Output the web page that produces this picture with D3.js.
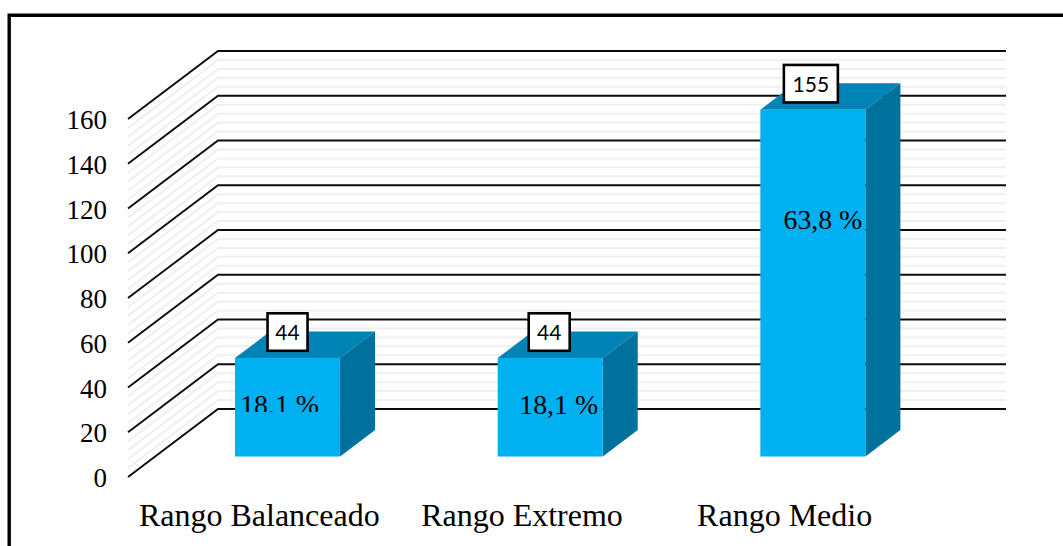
<!DOCTYPE html>
<html><head><meta charset="utf-8">
<script src="https://cdn.jsdelivr.net/npm/d3@7"></script>
<style>
html,body{margin:0;padding:0;background:#fff;overflow:hidden}
svg{display:block}
text{font-family:"Liberation Serif",serif;fill:#000}
</style></head><body>
<div id="chart"></div>
<script>
const categories = ["Rango Balanceado", "Rango Extremo", "Rango Medio"];
const counts = [44, 44, 155];
const percentLabels = ["18,1 %", "18,1 %", "63,8 %"];
const majorTicks = [0, 20, 40, 60, 80, 100, 120, 140, 160];
const minorTicks = d3.range(0, 160, 4).filter(v => v % 20 !== 0);

const W = 1063, H = 546;
const svg = d3.select("#chart").append("svg").attr("width", W).attr("height", H);

// layout
const front = {x0: 128, x1: 916};
const wall = {dx: 90, dy: -68};
const barDepth = {dx: 35, dy: -26.5};
const y = d3.scaleLinear().domain([0, 160]).range([477, 119]);
const barBase = 456.5;
const barH = v => y(0) - y(v);
const xBand = d3.scaleBand().domain(categories).range([front.x0, front.x1]);
const xBar = d3.scaleBand().domain(categories).range([front.x0 + 28.2, front.x1 + 28.2])
  .paddingInner(0.6).paddingOuter(0.3);

// frame
svg.append("path").attr("d", `M9.2,${H + 5}V15.2H${W + 5}`)
  .attr("fill", "none").attr("stroke", "#000").attr("stroke-width", 3.4);

const gridPath = v => `M${front.x0},${y(v)}L${front.x0 + wall.dx},${y(v) + wall.dy}H${front.x1 + wall.dx}`;

svg.append("g").selectAll("path").data(minorTicks).join("path")
  .attr("d", gridPath).attr("fill", "none").attr("stroke", "#efefef").attr("stroke-width", 2);
svg.append("g").selectAll("path").data(majorTicks).join("path")
  .attr("d", gridPath).attr("fill", "none").attr("stroke", "#0c0c0c").attr("stroke-width", 1.9);

// y labels
svg.append("g").selectAll("text").data(majorTicks).join("text")
  .attr("x", 107).attr("y", d => y(d) + 10).attr("text-anchor", "end")
  .attr("font-size", 27).text(d => d);

// bars
const bars = svg.append("g").selectAll("g").data(categories.map((c, i) => ({c, i, v: counts[i]}))).join("g");
const colTop = "#0084b6", colSide = "#00709c", colFront = "#00b0f0";
bars.append("path").attr("fill", colTop).attr("d", d => {
  const x = xBar(d.c), w = xBar.bandwidth(), t = barBase - barH(d.v);
  return `M${x},${t}L${x + barDepth.dx},${t + barDepth.dy}H${x + w + barDepth.dx}L${x + w},${t}Z`;
});
bars.append("path").attr("fill", colSide).attr("d", d => {
  const x = xBar(d.c) + xBar.bandwidth(), t = barBase - barH(d.v);
  return `M${x},${t}L${x + barDepth.dx},${t + barDepth.dy}V${barBase + barDepth.dy}L${x},${barBase}Z`;
});
bars.append("rect").attr("fill", colFront)
  .attr("x", d => xBar(d.c)).attr("width", xBar.bandwidth())
  .attr("y", d => barBase - barH(d.v)).attr("height", d => barH(d.v));

// percent labels (first one is cut off in the source)
svg.append("defs").append("clipPath").attr("id", "cut").append("rect")
  .attr("x", 230).attr("y", 380).attr("width", 110).attr("height", 32);
const pctDx = [-8, 8.5, 10];
const pctY = [y(28), y(28), y(111)];
svg.append("g").selectAll("text").data(percentLabels).join("text")
  .attr("x", (d, i) => xBar(categories[i]) + xBar.bandwidth() / 2 + pctDx[i])
  .attr("y", (d, i) => pctY[i])
  .attr("text-anchor", "middle").attr("font-size", 27.8)
  .attr("clip-path", (d, i) => i === 0 ? "url(#cut)" : null)
  .text(d => d);

// count boxes
const boxW = [40, 41, 54], boxH = 37.5;
const boxes = bars.append("g").attr("transform", d =>
  `translate(${xBar(d.c) + xBar.bandwidth() / 2 - (d.i === 2 ? 2 : (d.i === 1 ? 1 : 0))},${barBase - barH(d.v) - 26})`);
boxes.append("rect").attr("x", d => -boxW[d.i] / 2).attr("y", -boxH / 2)
  .attr("width", d => boxW[d.i]).attr("height", boxH)
  .attr("fill", "#fff").attr("stroke", "#000").attr("stroke-width", 2.6);
boxes.append("text").attr("text-anchor", "middle").attr("y", 8)
  .style("font-family", "Lato, sans-serif").attr("font-size", 21).text(d => d.v);

// category labels
svg.append("g").selectAll("text").data(categories).join("text")
  .attr("x", d => xBand(d) + xBand.bandwidth() / 2).attr("y", 526)
  .attr("text-anchor", "middle").attr("font-size", 32).text(d => d);
</script>
</body></html>
